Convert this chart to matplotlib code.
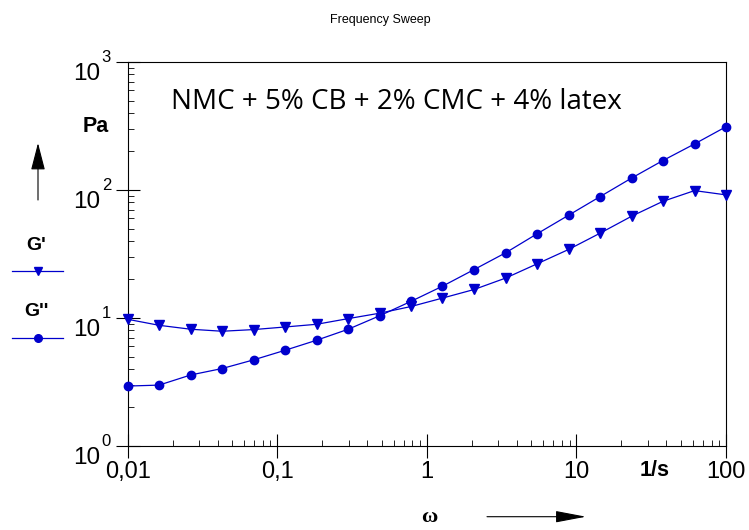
import matplotlib
matplotlib.use("Agg")
import matplotlib.pyplot as plt
import matplotlib.ticker as mticker
import matplotlib.transforms as mtrans
from matplotlib.lines import Line2D

# ---- data ----
omega = [0.01, 0.0162, 0.0264, 0.0428, 0.0695, 0.113, 0.183, 0.298, 0.483, 0.785,
         1.27, 2.07, 3.36, 5.46, 8.86, 14.4, 23.4, 37.9, 61.6, 100]
g_storage = [9.77, 8.77, 8.17, 7.88, 8.12, 8.51, 8.93, 9.89, 10.9, 12.3,
             14.3, 16.7, 20.5, 26.5, 34.3, 46.0, 62.4, 81.6, 98.9, 91.6]
g_loss = [2.94, 2.99, 3.59, 4.03, 4.71, 5.60, 6.70, 8.17, 10.4, 13.5,
          17.7, 23.9, 32.3, 45.5, 63.5, 88.8, 124, 170, 229, 312]
x_ticks = [0.01, 0.1, 1, 10, 100]
x_tick_labels = ["0,01", "0,1", "1", "10", "100"]
y_decades = [0, 1, 2, 3]

W, H = 749, 530
BLUE = "#0000CC"
plt.rcParams['font.family'] = ['Liberation Sans', 'DejaVu Sans']

fig = plt.figure(figsize=(W / 100, H / 100), dpi=100)
L, R, T, B = 127.7, 726, 62, 446
ax = fig.add_axes([L / W, 1 - B / H, (R - L) / W, (B - T) / H])

def fp(x, y):
    return (x / W, 1 - y / H)

ax.plot(omega, g_storage, color=BLUE, lw=0.9, marker='v', ms=6.5, mfc=BLUE, mec=BLUE, clip_on=False, zorder=3)
ax.plot(omega, g_loss, color=BLUE, lw=0.9, marker='o', ms=6, mfc=BLUE, mec=BLUE, clip_on=False, zorder=3)

ax.set_xscale('log')
ax.set_yscale('log')
ax.set_xlim(0.01, 100)
ax.set_ylim(1, 1000)

ax.xaxis.set_major_locator(mticker.FixedLocator(x_ticks))
ax.xaxis.set_major_formatter(mticker.FixedFormatter(x_tick_labels))
ax.xaxis.set_minor_locator(mticker.LogLocator(base=10, subs=range(2, 10), numticks=50))
ax.xaxis.set_minor_formatter(mticker.NullFormatter())
ax.yaxis.set_major_locator(mticker.FixedLocator([10 ** d for d in y_decades]))
ax.yaxis.set_major_formatter(mticker.NullFormatter())
ax.yaxis.set_minor_locator(mticker.LogLocator(base=10, subs=range(2, 10), numticks=50))
ax.yaxis.set_minor_formatter(mticker.NullFormatter())

ax.tick_params(which='major', direction='inout', length=17.3, width=0.8, top=False, right=False,
               labelsize=17, pad=2)
ax.tick_params(which='minor', direction='in', length=4.2, width=0.6, top=False, right=False)
for s in ax.spines.values():
    s.set_linewidth(0.8)

# y tick labels: "10" with superscript exponent
base = mtrans.blended_transform_factory(ax.transAxes, ax.transData)
for d in y_decades:
    t1 = mtrans.offset_copy(base, fig=fig, x=-27, y=-17.5, units='dots')
    ax.text(0, 10 ** d, "10", transform=t1, ha='right', va='baseline', fontsize=17.5, clip_on=False)
    t2 = mtrans.offset_copy(base, fig=fig, x=-26, y=0, units='dots')
    ax.text(0, 10 ** d, str(d), transform=t2, ha='left', va='baseline', fontsize=12, clip_on=False)

# texts
fig.text(*fp(380, 20), "Frequency Sweep", fontsize=9, ha='center', va='center')
fig.text(*fp(171, 101.7), "NMC + 5% CB + 2% CMC + 4% latex", fontsize=20, family=['Open Sans', 'DejaVu Sans'],
         ha='left', va='center')
fig.text(*fp(95.5, 126.7), "Pa", fontsize=15.5, fontweight='bold', ha='center', va='center')
fig.text(*fp(655, 470), "1/s", fontsize=15.5, fontweight='bold', ha='center', va='center')
fig.text(*fp(36, 246), "G'", fontsize=14, fontweight='bold', ha='center', va='center')
fig.text(*fp(36, 311.5), "G''", fontsize=14, fontweight='bold', ha='center', va='center')
fig.text(*fp(429, 517), "ω", fontsize=16, fontweight='bold', family=['Liberation Serif', 'DejaVu Serif'],
         ha='center', va='center')

# legend samples
for y, mk, ms in [(270.7, 'v', 5.5), (338.3, 'o', 5.5)]:
    x0, y0 = fp(11.7, y)
    x1, _ = fp(63.3, y)
    fig.add_artist(Line2D([x0, x1], [y0, y0], transform=fig.transFigure, color=BLUE, lw=0.9))
    xm, _ = fp(38.3, y)
    fig.add_artist(Line2D([xm], [y0], transform=fig.transFigure, color=BLUE, marker=mk, ms=ms,
                          mfc=BLUE, mec=BLUE, lw=0))

# arrows
ax.annotate("", xy=(38, H - 143), xytext=(38, H - 200), xycoords='figure pixels', textcoords='figure pixels',
            arrowprops=dict(arrowstyle='-|>,head_length=0.85,head_width=0.22', color='black', lw=0.8,
                            shrinkA=0, shrinkB=0, mutation_scale=20), annotation_clip=False)
ax.annotate("", xy=(586, H - 516.7), xytext=(487, H - 516.7), xycoords='figure pixels', textcoords='figure pixels',
            arrowprops=dict(arrowstyle='-|>,head_length=0.95,head_width=0.18', color='black', lw=0.8,
                            shrinkA=0, shrinkB=0, mutation_scale=20), annotation_clip=False)

fig.savefig("out.png", dpi=100)
